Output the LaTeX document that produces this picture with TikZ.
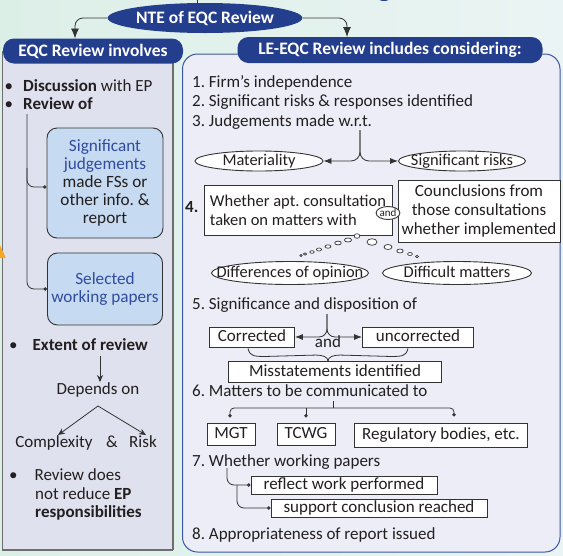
\documentclass[tikz,border=0pt]{standalone}
\usepackage{fontspec}
\setmainfont{Carlito}
\usetikzlibrary{arrows.meta,shapes.geometric,calc}
\frenchspacing

\definecolor{navy}{HTML}{243E8E}
\definecolor{ink}{HTML}{231F20}
\definecolor{wire}{HTML}{333333}
\definecolor{leftfill}{HTML}{DFE1EE}
\definecolor{leftedge}{HTML}{6E6E6E}
\definecolor{rightfill}{HTML}{ECEDF7}
\definecolor{rightedge}{HTML}{3A57A6}
\definecolor{cardfill}{HTML}{C6DAF1}
\definecolor{cardtext}{HTML}{2F4C9F}
\definecolor{bgleft}{HTML}{DCEFE7}
\definecolor{bgright}{HTML}{EAF4F4}
\definecolor{warn}{HTML}{F5A623}

\tikzset{
  txt/.style={inner sep=0pt, anchor=west, text=ink, text height=12pt, text depth=3.5pt},
  bx/.style={draw=wire, line width=0.9pt, fill=white, inner sep=0pt, text=ink, text height=12pt, text depth=3.5pt},
  bxm/.style={draw=wire, line width=0.9pt, fill=white, inner sep=3pt, text=ink, font=\fontsize{17}{19}\selectfont},
  % fixed-size ellipse; its words are set as a centred label
  oval/.style={ellipse, draw=wire, line width=0.9pt, fill=white, inner sep=0pt,
    label={[inner sep=0pt, text=ink, text height=12pt, text depth=3.5pt, font=\fontsize{16.4}{19}\selectfont]center:#1}},
  smalloval/.style={ellipse, draw=wire, line width=0.9pt, fill=white, inner sep=0pt, text=ink},
  headbox/.style={fill=navy, rounded corners=11pt, text=white, font=\fontsize{17.5}{20}\selectfont\bfseries, inner sep=0pt},
  card/.style={draw=wire, line width=0.9pt, fill=cardfill, rounded corners=10pt, align=center, inner sep=0pt, text=ink, font=\fontsize{17.2}{17.8}\selectfont},
  wirel/.style={draw=wire, line width=0.8pt},
  dotend/.style={-{Circle[length=3.4pt]}},
  tri/.style={-{Latex[length=8pt,width=6pt]}},
  bigtri/.style={-{Latex[length=10pt,width=8pt]}},
  barb/.style={-{Stealth[length=7pt,width=6pt]}},
  bubble/.style={draw=wire, line width=0.7pt, fill=white},
}

\begin{document}
\begin{tikzpicture}[x=1pt,y=-1pt,font=\fontsize{17}{19.5}\selectfont]
\useasboundingbox (0,0) rectangle (563,555);
\clip (0,0) rectangle (563,555);
\shade[left color=bgleft, right color=bgright] (0,0) rectangle (563,555);
\fill[navy] (384,-3) ellipse [x radius=7, y radius=4];

% panels
\draw[fill=leftfill, draw=leftedge, line width=1.2pt] (2.5,52) rectangle (172.5,550);
\draw[leftedge, line width=2pt] (172.5,56) -- (172.5,550);
\draw[fill=rightfill, draw=rightedge, line width=1pt, rounded corners=15pt] (182.5,54) rectangle (560,552);
\fill[warn, rounded corners=1pt] (-8,258) -- (-1,243) -- (6,258) -- cycle;

% headings
\node[ellipse, fill=navy, minimum width=186, minimum height=30, inner sep=0pt, text=white,
      font=\fontsize{17.5}{20}\selectfont\bfseries] (nte) at (205,18) {NTE of EQC Review};
\node[headbox, minimum width=180, minimum height=25] (lhead) at (93,51) {EQC Review involves};
\node[headbox, minimum width=305, minimum height=26] (rhead) at (390,50) {LE-EQC Review includes considering:};

\coordinate (topin) at (197,-2);
\draw[wirel] (topin) -- (197,4);
\coordinate (lin) at (75,38.5);
\coordinate (rin) at (347,37);
\draw[wirel, rounded corners=8, bigtri] (nte.west) -| (lin);
\draw[wirel, rounded corners=8, bigtri] (nte.east) -| (rin);

% left column
\node[txt] (d1) at (4.5,87) {\textbullet\hspace{10pt}\textbf{Discussion} with EP};
\node[txt] (d2) at (4.5,105) {\textbullet\hspace{10pt}\textbf{Review of}};

\node[card, minimum width=116, minimum height=110] (c1) at (105,183)
  {\textcolor{cardtext}{Significant}\\\textcolor{cardtext}{judgements}\\made FSs or\\other info. \&\\report};
\node[card, minimum width=115, minimum height=72, text=cardtext] (c2) at (105,289) {Selected\\working papers};

\coordinate (rv) at (27,114);
\coordinate (rv1) at (27,168);
\draw[wirel, rounded corners=7, dotend] (rv) |- (c2.west);
\draw[wirel, rounded corners=7, dotend] (rv1) |- ($(c1.west)+(0,4)$);

\node[txt] (ex) at (9,346) {\textbullet\hspace{15pt}\textbf{Extent of review}};
\node[txt, anchor=center] (dep) at (98,390) {Depends on};
\coordinate (exdown) at (100,356);
\draw[wirel, barb] (exdown) -- (exdown |- dep.north);
\node[txt, anchor=center] (cx) at (54,443) {Complexity};
\node[txt, anchor=center] (amp) at (112,443) {\&};
\node[txt, anchor=center] (rk) at (143,443) {Risk};
\coordinate (fork) at (98,406);
\draw[wirel, barb] (fork) -- ($(cx.north)+(4,0)$);
\draw[wirel, barb] (fork) -- ($(rk.north)+(3,0)$);

\node[txt] (rd) at (9,476) {\textbullet\hspace{17pt}Review does};
\node[txt] (rd2) at (35,495) {not reduce \textbf{EP}};
\node[txt] (rd3) at (35,513) {\textbf{responsibilities}};

% right column
\node[txt] (i1) at (192,83) {1. Firm’s independence};
\node[txt] (i2) at (192,102) {2. Significant risks \& responses identified};
\node[txt] (i3) at (192,122) {3. Judgements made w.r.t.};

\node[oval=Materiality, minimum width=128, minimum height=20] (mat) at (259,161) {};
\node[oval=Significant risks, minimum width=127, minimum height=20] (srk) at (462,161) {};
\coordinate (f3) at (360,130);
\draw[wirel, rounded corners=9, tri] (f3) |- (mat.east);
\draw[wirel, rounded corners=9, tri] (f3) |- (srk.west);

\node[txt, font=\fontsize{17}{19}\selectfont\bfseries] (n4) at (185,208) {4.};
\node[bxm, minimum width=188, minimum height=50, align=left, font=\fontsize{16.5}{19}\selectfont] (q4) at (298,210)
  {Whether apt. consultation\\taken on matters with};
\node[bxm, minimum width=162, minimum height=62, align=center] (c4) at (479,211)
  {Counclusions from\\those consultations\\whether implemented};
\node[smalloval, minimum width=23, minimum height=13, font=\fontsize{11}{12}\selectfont] (and4) at (388,213) {and};

% thought-bubble chain below the consultation box
\foreach \x/\y/\rx/\ry in {357/236/2.8/2.3, 348/240/3.6/2.0, 338/243/3.3/1.9, 328/246.5/3.0/1.7,
  319/249.5/2.6/1.5, 312/252/2.2/1.3, 305/254/1.8/1.1, 301/255.5/1.2/1.0,
  372/242/5/3.3, 388/247/4/2.5, 400/251/3.2/2, 410/254/2.4/1.5, 417/256.5/1.5/1.2}
  \draw[bubble] (\x,\y) ellipse [x radius=\rx, y radius=\ry];

\node[oval=Differences of opinion, minimum width=157, minimum height=23] (dop) at (290,273) {};
\node[oval=Difficult matters, minimum width=149, minimum height=23] (dm) at (457,273) {};

\node[txt] (i5) at (192,305) {5. Significance and disposition of};
\node[bx, minimum width=85, minimum height=20] (corr) at (252,337) {Corrected};
\node[bx, minimum width=111, minimum height=20] (unc) at (418,337) {uncorrected};
\node[txt, anchor=center] (and5) at (328,343) {and};
\coordinate (f5) at (327,314);
\draw[wirel, rounded corners=8, tri] (f5) |- (corr.east);
\draw[wirel, rounded corners=8, tri] (f5) |- (unc.west);
\node[bx, minimum width=213, minimum height=21] (mis) at (335,372) {Misstatements identified};
\coordinate (bl) at ($(corr.south)+(-4,1)$);
\coordinate (br) at ($(unc.south)+(-10,1)$);
\coordinate (bm) at (mis.north -| and5);
\draw[wirel] (bl) .. controls ($(bl)+(2,8)$) and ($(bl)+(6,8)$) .. ($(bl)+(18,8)$)
  -- ($(bm)+(-12,-6)$) .. controls ($(bm)+(-5,-6)$) and ($(bm)+(0,-4)$) .. (bm);
\draw[wirel] (br) .. controls ($(br)+(-2,8)$) and ($(br)+(-6,8)$) .. ($(br)+(-18,8)$)
  -- ($(bm)+(12,-6)$) .. controls ($(bm)+(5,-6)$) and ($(bm)+(0,-4)$) .. (bm);

\node[txt] (i6) at (192,392) {6. Matters to be communicated to};
\node[bx, minimum width=48, minimum height=22] (mgt) at (231,434) {MGT};
\node[bx, minimum width=58, minimum height=22] (tcwg) at (306,434) {TCWG};
\node[bx, minimum width=173, minimum height=24] (reg) at (441,435) {Regulatory bodies, etc.};
\coordinate (f6) at (333,401);
\coordinate (h6) at (333,408);
\draw[wirel] (f6) -- (h6);
\draw[wirel, rounded corners=4, dotend] (h6) -| ($(mgt.north)+(-1,-5)$);
\draw[wirel, rounded corners=4, dotend] (h6) -| ($(reg.north)+(13,-6)$);
\draw[wirel, dotend] (h6 -| tcwg.north) -- ($(tcwg.north)+(0,-5)$);

\node[txt] (i7) at (192,462) {7. Whether working papers};
\node[bx, minimum width=186, minimum height=18] (refl) at (344,485) {reflect work performed};
\node[bx, minimum width=216, minimum height=18] (supp) at (379,508) {support conclusion reached};
\coordinate (w7) at (227,468);
\coordinate (w7b) at (237,485);
\draw[wirel, rounded corners=7, dotend] (w7) |- (refl.west);
\draw[wirel, rounded corners=7, dotend] (w7b) |- (supp.west);

\node[txt] (i8) at (192,535) {8. Appropriateness of report issued};
\end{tikzpicture}
\end{document}
